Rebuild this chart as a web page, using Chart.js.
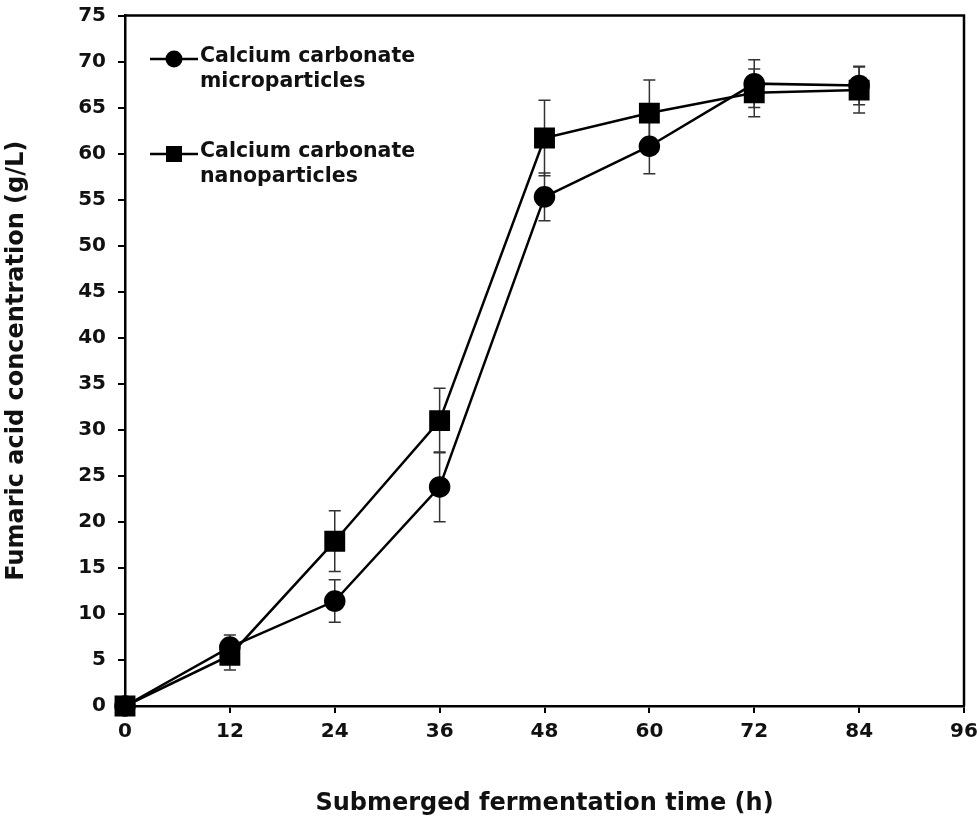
<!DOCTYPE html>
<html>
<head>
<meta charset="utf-8">
<script src="https://cdn.jsdelivr.net/npm/chart.js@4/dist/chart.umd.min.js"></script>
<style>
  html, body { margin: 0; padding: 0; background: #fff; }
  canvas { display: block; }
</style>
</head>
<body>
<canvas id="chartFumarico" width="980" height="823"></canvas>
<script>
// fermentation time (h)
var hours = [0, 12, 24, 36, 48, 60, 72, 84];
// calcium carbonate microparticles
var microValues = [0, 6.4, 11.4, 23.8, 55.3, 60.8, 67.6, 67.4];
var microErrors = [0, 1.3, 2.3, 3.8, 2.6, 3.0, 2.6, 2.1];
// calcium carbonate nanoparticles
var nanoValues = [0, 5.5, 17.9, 31.0, 61.7, 64.4, 66.6, 66.9];
var nanoErrors = [0, 1.6, 3.3, 3.5, 4.1, 3.6, 2.6, 2.5];
var xTicks = [0, 12, 24, 36, 48, 60, 72, 84, 96];
var yTicks = [0, 5, 10, 15, 20, 25, 30, 35, 40, 45, 50, 55, 60, 65, 70, 75];
var legendLines = [['Calcium carbonate', 'microparticles'], ['Calcium carbonate', 'nanoparticles']];

var FONT = 'DejaVu Sans';

function toPoints(xs, ys) {
  var pts = [];
  for (var i = 0; i < xs.length; i++) { pts.push({ x: xs[i], y: ys[i] }); }
  return pts;
}

// error bars drawn from the scales
var errorBars = {
  id: 'errorBars',
  beforeDatasetsDraw: function (chart) {
    var ctx = chart.ctx;
    var xs = chart.scales.x, ys = chart.scales.y;
    var sets = [[microValues, microErrors], [nanoValues, nanoErrors]];
    ctx.save();
    ctx.strokeStyle = '#333';
    ctx.lineWidth = 1.5;
    sets.forEach(function (s) {
      for (var i = 0; i < hours.length; i++) {
        if (!s[1][i]) { continue }
        var px = xs.getPixelForValue(hours[i]);
        var top = ys.getPixelForValue(s[0][i] + s[1][i]);
        var bot = ys.getPixelForValue(s[0][i] - s[1][i]);
        ctx.beginPath();
        ctx.moveTo(px, top); ctx.lineTo(px, bot);
        ctx.moveTo(px - 6, top); ctx.lineTo(px + 6, top);
        ctx.moveTo(px - 6, bot); ctx.lineTo(px + 6, bot);
        ctx.stroke();
      }
    });
    ctx.restore();
  }
};

// top and right spines + legend inside the plot
var frameAndLegend = {
  id: 'frameAndLegend',
  afterDraw: function (chart) {
    var ctx = chart.ctx;
    var a = chart.chartArea;
    ctx.save();
    ctx.strokeStyle = '#000';
    ctx.lineWidth = 2.5;
    ctx.beginPath();
    ctx.moveTo(a.left, a.top);
    ctx.lineTo(a.right, a.top);
    ctx.lineTo(a.right, a.bottom);
    ctx.stroke();

    var rows = [59, 154];
    ctx.font = 'bold 20.5px ' + FONT;
    ctx.textBaseline = 'middle';
    for (var k = 0; k < rows.length; k++) {
      var y = rows[k];
      ctx.lineWidth = 2.5;
      ctx.beginPath();
      ctx.moveTo(150, y); ctx.lineTo(198, y);
      ctx.stroke();
      ctx.fillStyle = '#000';
      if (k === 0) {
        ctx.beginPath(); ctx.arc(174, y, 8.5, 0, Math.PI * 2); ctx.fill();
      } else {
        ctx.fillRect(166, y - 8, 16, 16);
      }
      ctx.fillStyle = '#111';
      ctx.fillText(legendLines[k][0], 200, y - 2);
      ctx.fillText(legendLines[k][1], 200, y + 23);
    }
    ctx.restore();
  }
};

var ctx = document.getElementById('chartFumarico');
new Chart(ctx, {
  type: 'line',
  data: {
    datasets: [
      {
        label: 'Calcium carbonate microparticles',
        data: toPoints(hours, microValues),
        borderColor: '#000',
        backgroundColor: '#000',
        borderWidth: 2.5,
        pointStyle: 'circle',
        pointRadius: 9.5,
        pointHoverRadius: 9.5,
        clip: false,
        tension: 0
      },
      {
        label: 'Calcium carbonate nanoparticles',
        data: toPoints(hours, nanoValues),
        borderColor: '#000',
        backgroundColor: '#000',
        borderWidth: 2.5,
        pointStyle: 'rect',
        pointRadius: 13,
        pointHoverRadius: 13,
        clip: false,
        tension: 0
      }
    ]
  },
  options: {
    responsive: false,
    animation: false,
    devicePixelRatio: 1,
    layout: { padding: { top: 14, right: 16, left: 0, bottom: 0 } },
    scales: {
      x: {
        type: 'linear',
        min: 0,
        max: 96,
        afterFit: function (s) { s.height = 117; s.paddingRight = 0; s.paddingLeft = 0; },
        afterBuildTicks: function (s) { s.ticks = xTicks.map(function (v) { return { value: v }; }); },
        grid: { drawOnChartArea: false, drawTicks: true, tickLength: 7, color: '#000', lineWidth: 2 },
        border: { color: '#000', width: 2.5 },
        ticks: {
          color: '#111',
          padding: 7,
          maxRotation: 0,
          font: { family: FONT, size: 20, weight: 'bold' }
        },
        title: {
          display: true,
          text: 'Submerged fermentation time (h)',
          color: '#111',
          padding: { top: 0, bottom: 5 },
          font: { family: FONT, size: 24, weight: 'bold' }
        }
      },
      y: {
        type: 'linear',
        min: 0,
        max: 75,
        afterFit: function (s) { s.width = 125; s.paddingTop = 0; s.paddingBottom = 0; },
        afterBuildTicks: function (s) { s.ticks = yTicks.map(function (v) { return { value: v }; }); },
        grid: { drawOnChartArea: false, drawTicks: true, tickLength: 7, color: '#000', lineWidth: 2 },
        border: { color: '#000', width: 2.5 },
        ticks: {
          color: '#111',
          padding: 12,
          font: { family: FONT, size: 20, weight: 'bold' }
        },
        title: {
          display: true,
          text: 'Fumaric acid concentration (g/L)',
          color: '#111',
          padding: { top: 2, bottom: 0 },
          font: { family: FONT, size: 24, weight: 'bold' }
        }
      }
    },
    plugins: {
      legend: { display: false },
      tooltip: { enabled: false }
    }
  },
  plugins: [errorBars, frameAndLegend]
});
</script>
</body>
</html>
